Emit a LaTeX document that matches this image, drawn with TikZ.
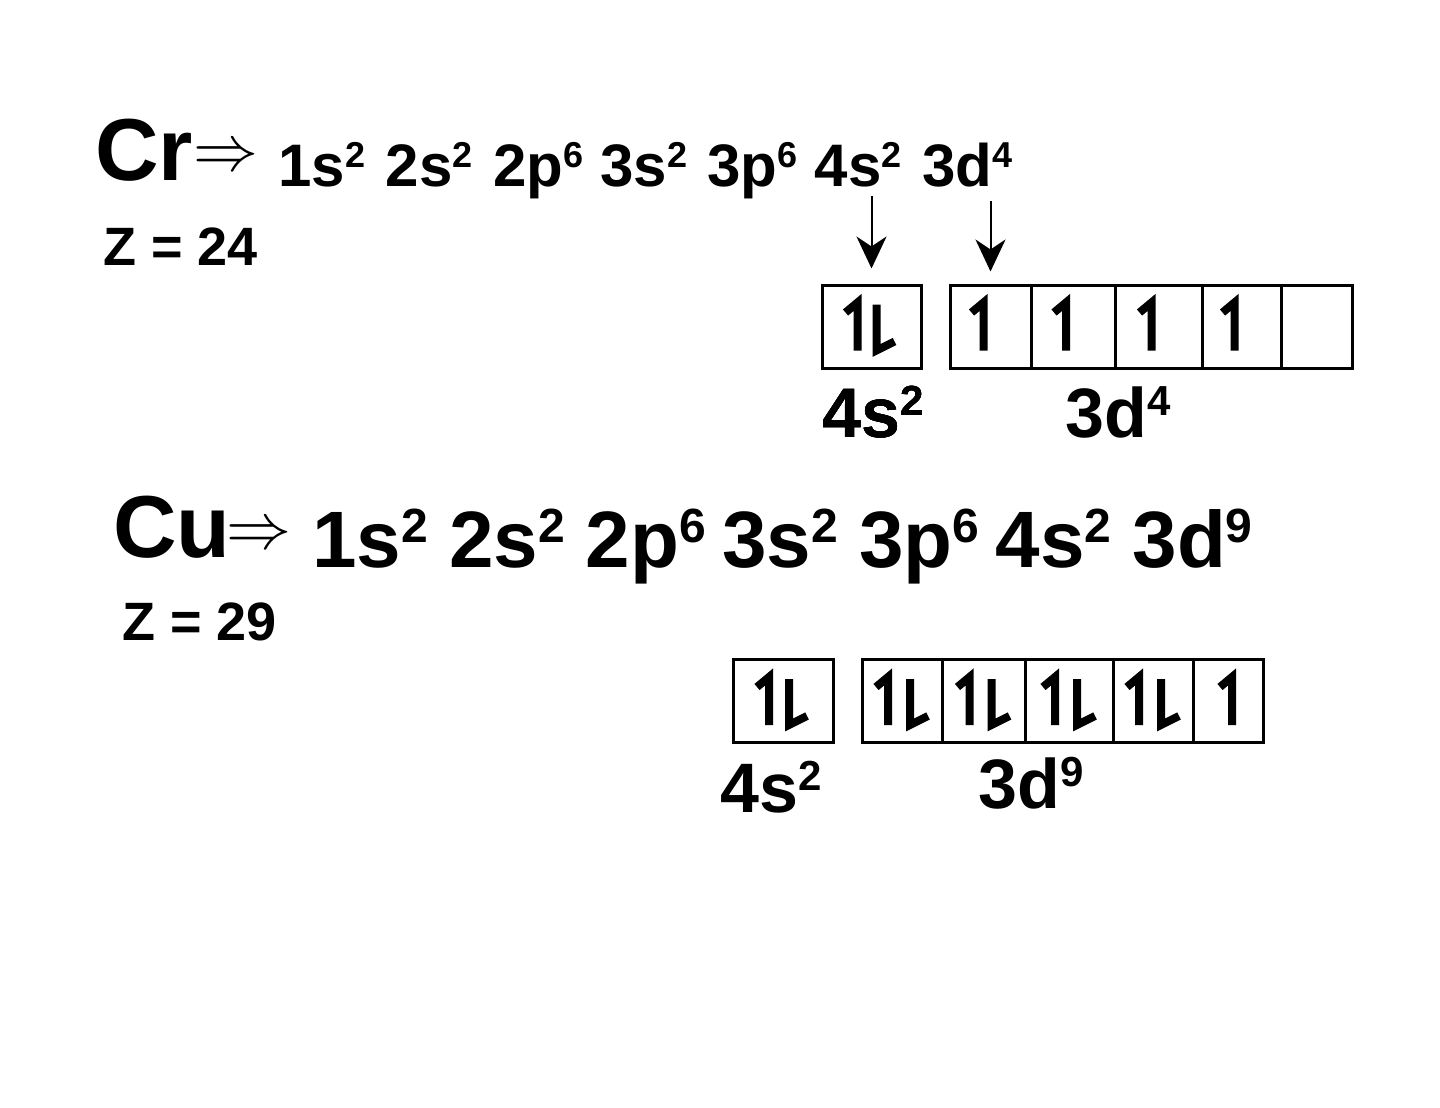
\documentclass[tikz,border=0pt]{standalone}
\usepackage{fontspec}
\setmainfont{Liberation Sans}
\usetikzlibrary{positioning,arrows.meta}
\tikzset{%
	elem/.style={
		font=\fontsize{44}{48}\selectfont\bfseries,
		inner sep=0pt,
		anchor=base west
	},
	imp/.style={ inner sep=0pt },
	zlbl/.style={ font=\fontsize{27}{29}\selectfont\bfseries, inner sep=0pt, anchor=base west },
	cfg-cr/.style={ font=\fontsize{30}{34}\selectfont\bfseries, inner sep=0pt, anchor=base west },
	cfg-cu/.style={ font=\fontsize{40}{44}\selectfont\bfseries, inner sep=0pt, anchor=base west },
	lbl/.style={ font=\fontsize{35}{38}\selectfont\bfseries, inner sep=0pt, anchor=base west },
	orbbox/.style={
		draw,
		line width=1.5pt,
		minimum height=41.5pt,
		inner sep=0pt
	},
	spin/.style={ line width=4pt, line cap=butt, line join=miter },
	conn/.style={ line width=1pt, -{Stealth[length=16pt,width=15pt,inset=5pt]} },
}
\newcommand{\orb}[2]{#1\raisebox{0.31em}{\scalebox{0.6}{#2}}}
\newcommand{\implies}{\resizebox{32.5pt}{!}{$\Rightarrow$}}
\newcommand{\spinup}[2]{\draw[spin] ([shift={(#2,24)}]#1.center) -- ++(0,-48) -- ++(-12,10);}
\newcommand{\spindown}[2]{\draw[spin] ([shift={(#2,-22)}]#1.center) -- ++(0,46) -- ++(18,-9);}

\begin{document}
\begin{tikzpicture}[x=0.5pt, y=-0.5pt]
\useasboundingbox (0,0) rectangle (1440,1108);

% chromium
\node[elem] (cr) at (95,180) {Cr};
\node[imp] (cr-imp) at (225.5,159) {\implies};
\node[zlbl] (cr-z) at (103,265) {Z = 24};
\foreach \o/\e [count=\i] in {1s/2, 2s/2, 2p/6, 3s/2, 3p/6, 4s/2, 3d/4}
	\node[cfg-cr] (cr-\i) at ({278+(\i-1)*107.3},186) {\orb{\o}{\e}};

% chromium boxes
\node[orbbox, minimum width=49.5pt] (cr-s) at (871.5,326.5) {};
\foreach \a/\b [count=\k] in {950/1031, 1031/1115, 1115/1202, 1202/1281, 1281/1352}
	\node[orbbox, minimum width={(\b-\a)*0.5pt}] (cr-d\k) at ({(\a+\b)/2},326.5) {};
\spinup{cr-s}{-14}
\spindown{cr-s}{5}
\foreach \k in {1,...,4}
	\spinup{cr-d\k}{-7}
\node[lbl] (cr-s-lbl) at (822,437) {\orb{4s}{2}};
\node[lbl] (cr-d-lbl) at (1065,437) {\orb{3d}{4}};

% chromium arrows
\draw[conn, shorten <=4.5pt, shorten >=7.5pt] (cr-6.south -| cr-s.north) -- (cr-s.north);
\draw[conn, shorten <=7pt, shorten >=6pt] (cr-7.south -| cr-d1.north) -- (cr-d1.north);

% copper
\node[elem] (cu) at (113,557) {Cu};
\node[imp] (cu-imp) at (258.5,537) {\implies};
\node[zlbl] (cu-z) at (122,640) {Z = 29};
\foreach \o/\e [count=\i] in {1s/2, 2s/2, 2p/6, 3s/2, 3p/6, 4s/2, 3d/9}
	\node[cfg-cu] (cu-\i) at ({312+(\i-1)*136.7},567) {\orb{\o}{\e}};

% copper boxes
\node[orbbox, minimum width=50pt] (cu-s) at (783,701) {};
\foreach \a/\b [count=\k] in {862/942, 942/1025, 1025/1113, 1113/1193, 1193/1263}
	\node[orbbox, minimum width={(\b-\a)*0.5pt}] (cu-d\k) at ({(\a+\b)/2},701) {};
\spinup{cu-s}{-14}
\spindown{cu-s}{6}
\foreach \k in {1,...,4}{
	\spinup{cu-d\k}{-14}
	\spindown{cu-d\k}{8}
}
\spinup{cu-d5}{4}
\node[lbl] (cu-s-lbl) at (720,812) {\orb{4s}{2}};
\node[lbl] (cu-d-lbl) at (978,808) {\orb{3d}{9}};

\end{tikzpicture}
\end{document}
